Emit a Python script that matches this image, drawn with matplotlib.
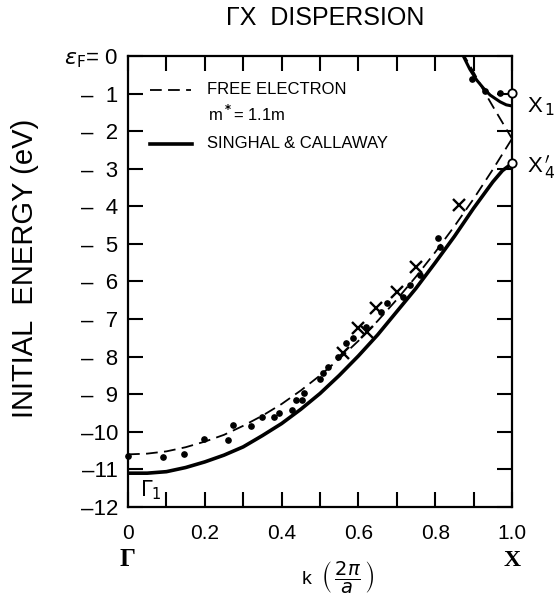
import matplotlib
matplotlib.use("Agg")
import matplotlib.pyplot as plt
import matplotlib.transforms as mtransforms

plt.rcParams['font.family'] = ['Liberation Sans', 'DejaVu Sans']
plt.rcParams['mathtext.fontset'] = 'dejavusans'

# ---- data ----
# Singhal & Callaway, lower band (Gamma1 -> X4')
sc_k = [0, 0.05, 0.1, 0.15, 0.2, 0.25, 0.3, 0.35, 0.4, 0.45, 0.5, 0.55,
        0.6, 0.65, 0.7, 0.75, 0.8, 0.85, 0.9, 0.95, 0.975, 1.0]
sc_e = [-11.1, -11.1, -11.06, -10.95, -10.8, -10.62, -10.4, -10.1, -9.78, -9.4,
        -8.98, -8.5, -7.98, -7.42, -6.8, -6.18, -5.5, -4.8, -4.05, -3.35, -3.05, -2.86]
# Singhal & Callaway, upper band (-> X1)
sc_up_k = [0.866, 0.873, 0.89, 0.908, 0.925, 0.943, 0.969, 0.985, 1.0]
sc_up_e = [0.15, 0.0, -0.35, -0.64, -0.85, -1.04, -1.22, -1.3, -1.33]

# free electron, m* = 1.1m
fe_k = [0, 0.05, 0.1, 0.15, 0.2, 0.25, 0.3, 0.35, 0.4, 0.45, 0.5, 0.55,
        0.6, 0.65, 0.7, 0.75, 0.8, 0.85, 0.9, 0.95, 1.0]
fe_e = [-10.6, -10.58, -10.52, -10.41, -10.26, -10.08, -9.84, -9.57, -9.26, -8.9,
        -8.5, -8.06, -7.58, -7.05, -6.48, -5.87, -5.22, -4.53, -3.8, -3.02, -2.2]
fe_up_k = [0.868, 0.876, 0.9, 0.925, 0.95, 0.975, 1.0]
fe_up_e = [0.12, 0.0, -0.43, -0.9, -1.34, -1.77, -2.2]

# measured points (dots)
dot_k = [0.0, 0.092, 0.147, 0.199, 0.261, 0.274, 0.32, 0.35, 0.38, 0.394, 0.426,
         0.437, 0.452, 0.459, 0.5, 0.509, 0.522, 0.548, 0.568, 0.585, 0.62, 0.66,
         0.674, 0.717, 0.734, 0.76, 0.808, 0.8125, 0.895, 0.93, 0.969]
dot_e = [-10.64, -10.68, -10.6, -10.2, -10.22, -9.82, -9.84, -9.6, -9.61, -9.51, -9.42,
         -9.14, -9.15, -8.96, -8.6, -8.44, -8.27, -8.02, -7.63, -7.5, -7.2, -6.8,
         -6.58, -6.4, -6.09, -5.83, -4.85, -5.07, -0.62, -0.92, -0.98]
# measured points (crosses)
cross_k = [0.56, 0.60, 0.622, 0.645, 0.70, 0.75, 0.862]
cross_e = [-7.9, -7.25, -7.34, -6.7, -6.27, -5.62, -3.97]
# symmetry points at X (open circles)
xpt_k = [1.0, 1.0]
xpt_e = [-0.98, -2.84]

ytick_vals = list(range(0, -13, -1))
ytick_labels = [r"$\epsilon_{\rm F}$= 0"] + ["\u2013  %d" % i for i in range(1, 10)] + \
               ["\u201310", "\u201311", "\u201312"]
xtick_vals = [0, 0.2, 0.4, 0.6, 0.8, 1.0]
xtick_labels = ["0", "0.2", "0.4", "0.6", "0.8", "1.0"]

fig = plt.figure(figsize=(5.58, 6.0), dpi=100)
ax = fig.add_axes([0.2294, 0.155, 0.6882, 0.7517])

# curves
ax.plot(sc_k, sc_e, color="black", lw=2.6, solid_capstyle="butt", zorder=3)
ax.plot(sc_up_k, sc_up_e, color="black", lw=2.2, zorder=3)
ax.plot(fe_k, fe_e, color="black", lw=1.3, linestyle=(0, (6.5, 3.5)), zorder=3)
ax.plot(fe_up_k, fe_up_e, color="black", lw=1.3, linestyle=(0, (6.5, 3.5)), zorder=3)

# data
ax.plot(dot_k, dot_e, "o", color="black", ms=3.8, zorder=4, clip_on=False)
ax.plot(cross_k, cross_e, "x", color="black", ms=9, mew=1.7, zorder=4)
ax.plot(xpt_k, xpt_e, "o", mfc="white", mec="black", ms=6, mew=1.3, zorder=5, clip_on=False)

# legend drawn by hand
ax.plot([0.057, 0.163], [-0.9, -0.9], color="black", lw=1.3, linestyle=(0, (6.5, 3.5)))
ax.text(0.206, -0.9, "FREE ELECTRON", fontsize=12, va="center", ha="left")
ax.text(0.208, -1.55, r"m$^{\bf *}$= 1.1m", fontsize=12, va="center", ha="left")
ax.plot([0.057, 0.167], [-2.34, -2.34], color="black", lw=2.6)
ax.text(0.206, -2.34, "SINGHAL & CALLAWAY", fontsize=12, va="center", ha="left")

# symmetry labels
ax.text(0.03, -11.55, r"$\Gamma_1$", fontsize=15, va="center", ha="left")
ax.text(1.04, -1.35, r"X$_{\,1}$", fontsize=16, va="center", ha="left", clip_on=False)
ax.text(1.04, -2.95, r"X$_{\,4}^{\,\prime}$", fontsize=16, va="center", ha="left", clip_on=False)

# axes styling
ax.set_xlim(0, 1.0)
ax.set_ylim(-12, 0)
ax.set_yticks(ytick_vals)
ax.set_yticklabels(ytick_labels)
ax.set_xticks(xtick_vals)
ax.set_xticklabels(xtick_labels)
ax.set_xticks([0.1, 0.3, 0.5, 0.7, 0.9], minor=True)
ax.tick_params(axis="y", which="both", direction="in", left=True, right=True,
               length=11, width=1.5, labelsize=16, pad=7)
ax.tick_params(axis="x", which="both", direction="in", top=True, bottom=True,
               length=11, width=1.5, labelsize=15, pad=12)
for s in ax.spines.values():
    s.set_linewidth(1.6)

# Gamma / X under the axis
trans = mtransforms.blended_transform_factory(ax.transData, fig.transFigure)
ax.text(0.0, 0.068, "\u0393", fontsize=18, ha="center", va="center", transform=trans,
        family="Liberation Serif", weight="bold")
ax.text(1.0, 0.065, "X", fontsize=17, ha="center", va="center", transform=trans,
        family="Liberation Serif", weight="bold")

fig.text(0.606, 0.008, r"k  $\left(\,\dfrac{2\pi}{a}\,\right)$", fontsize=14,
         ha="center", va="bottom")
fig.text(0.582, 0.97, "\u0393X  DISPERSION", fontsize=18, ha="center", va="center")
fig.text(0.045, 0.553, "INITIAL  ENERGY (eV)", fontsize=21, rotation=90,
         ha="center", va="center")

fig.savefig("out.png", dpi=100)
